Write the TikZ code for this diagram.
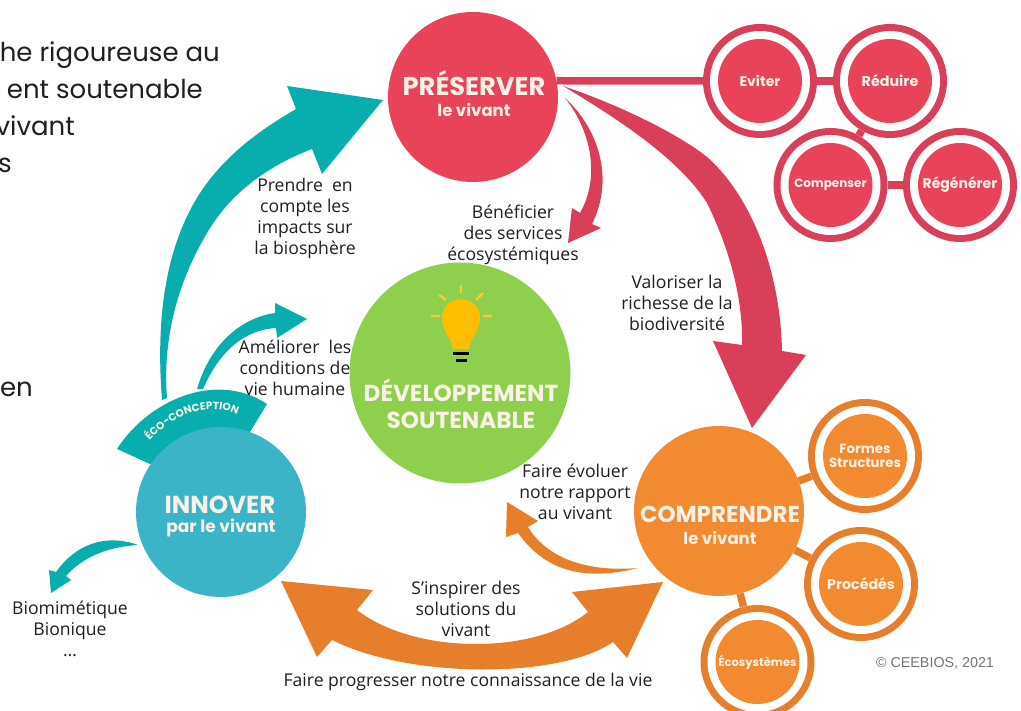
\documentclass[tikz,border=0pt]{standalone}
\usepackage{fontspec}
\usetikzlibrary{positioning, decorations.text}

\setmainfont{Open Sans}
\newfontfamily\headfont{Poppins}
\newfontfamily\introfont{Poppins}
\newfontfamily\creditfont{Liberation Sans}

\definecolor{redfill}{HTML}{E84359}
\definecolor{reddark}{HTML}{DA3F5A}
\definecolor{orangefill}{HTML}{F28A32}
\definecolor{orangedark}{HTML}{E67E2B}
\definecolor{tealarrow}{HTML}{08AEAE}
\definecolor{bluefill}{HTML}{3AB4C6}
\definecolor{greenfill}{HTML}{8ECF4E}
\definecolor{paletext}{HTML}{FCF1E6}
\definecolor{bulbyellow}{HTML}{FFBE00}

\tikzset{
    hub/.style={circle, minimum size=170pt, inner sep=0pt, fill=#1},
    subring/.style 2 args={circle, minimum size=114pt, inner sep=0pt, fill=#1, text=paletext,
        path picture={
            \fill[white] (path picture bounding box.center) circle (50);
            \fill[#2] (path picture bounding box.center) circle (42);
        }},
    hubtitle/.style={text=paletext, inner sep=0pt, font=\headfont\bfseries\fontsize{#1}{#1}\selectfont},
    ringtext/.style={font=\headfont\bfseries\fontsize{#1}{#1}\selectfont},
    caption/.style={inner sep=0pt, align=center, text=black!88, font=\fontsize{17.6}{21}\selectfont},
    intro/.style={anchor=base east, inner sep=0pt, text=black!88, font=\introfont\fontsize{26}{26}\selectfont},
    link/.style={line width=7.5pt, draw=#1},
}

\begin{document}
\begin{tikzpicture}[x=1pt, y=-1pt, on grid]
    \useasboundingbox (0,0) rectangle (1021,711);
    \clip (0,0) rectangle (1021,711);

    % Cut-off text on the left
    \node[intro] (introa) at (220,62) {he rigoureuse au};
    \node[intro] (introb) at (203,99) {ent soutenable};
    \node[intro] (introc) at (75,136) {vivant};
    \node[intro] (introd) at (12,173) {s};
    \node[intro] (introe) at (33,397) {en};

    % Band behind the innover circle
    \fill[tealarrow] (150,464) -- (117,449) .. controls (146,403) and (214,369) .. (267,404) -- (250,432) -- cycle;
    \path[decorate, decoration={text along path, text align=center,
        text={|\headfont\bfseries\fontsize{10.5}{10.5}\selectfont\color{paletext}|ÉCO-CONCEPTION}}]
        (143,449) .. controls (168,414) and (215,396) .. (246,421);

    % Label under the green circle
    \node[caption] (ameliorer) at (295,368) {Améliorer~ les\\conditions de\\ vie humaine};

    % Main circles
    \node[hub=redfill] (preserver) at (473,97) {};
    \node[hub=greenfill, minimum size=221pt] (durable) at (460,373) {};
    \node[hub=bluefill] (innover) at (221,512) {};
    \node[hub=orangefill] (comprendre) at (719,511) {};

    % Circle titles
    \node[hubtitle=25.7] (preservera) at (474,83) {PRÉSERVER};
    \node[hubtitle=16.5] (preserverb) at (474,110) {le vivant};
    \node[hubtitle=23.2] (durablea) at (461,390) {DÉVELOPPEMENT};
    \node[hubtitle=23.2] (durableb) at (461,420) {SOUTENABLE};
    \node[hubtitle=24.6] (innovera) at (220,505) {INNOVER};
    \node[hubtitle=17] (innoverb) at (221,528) {par le vivant};
    \node[hubtitle=23] (comprendrea) at (720,514) {COMPRENDRE};
    \node[hubtitle=16.5] (comprendreb) at (720,538) {le vivant};

    % Small circles
    \node[subring={reddark}{redfill}, ringtext=14] (eviter) at (760,81) {Eviter};
    \node[subring={reddark}{redfill}, ringtext=14.3] (reduire) [right=130pt of eviter] {Réduire};
    \node[subring={reddark}{redfill}, ringtext=12] (compenser) [below left=104pt and 59.5pt of reduire] {Compenser};
    \node[subring={reddark}{redfill}, ringtext=14] (regenerer) [right=129.5pt of compenser] {Régénérer};
    \node[subring={orangedark}{orangefill}, ringtext=13.3, align=center] (formes) at (865,456) {Formes\\[1pt]Structures};
    \node[subring={orangedark}{orangefill}, ringtext=14.2] (procedes) at (861,584) {Procédés};
    \node[subring={orangedark}{orangefill}, ringtext=11.5] (ecosystemes) at (757.5,662) {Écosystèmes};

    % Links
    \draw[link=reddark] (preserver.11) -- (eviter);
    \draw[link=reddark] (eviter) -- (reduire);
    \draw[link=reddark] (reduire) -- (compenser);
    \draw[link=reddark] (compenser) -- (regenerer);
    \draw[link=orangedark] (comprendre) -- (formes);
    \draw[link=orangedark] (comprendre) -- (procedes);
    \draw[link=orangedark] (comprendre) -- (ecosystemes);

    % Lamp
    \fill[bulbyellow] (453,349) .. controls (452,338) and (442,332) .. (442,318)
        .. controls (442,293) and (480,293) .. (480,318)
        .. controls (480,332) and (470,338) .. (469,349) -- cycle;
    \draw[black, line width=3pt] (453,354) -- (469,354) (456,361) -- (467,361);
    \draw[bulbyellow!80!white, line width=2.4pt] (461,285) -- (461,293) (439,295) -- (446,300)
        (483,293) -- (476,300) (431,316) -- (440,316) (483,316) -- (492,316);

    % Teal arrows
    \fill[tealarrow] (162,400) .. controls (157,335) and (160,255) .. (200,193)
        .. controls (225,155) and (260,130) .. (296,109) -- (287,86) -- (383,100) -- (322,174) -- (312,149)
        .. controls (270,165) and (235,190) .. (212,225)
        .. controls (180,275) and (162,335) .. (167,398) -- cycle;
    \fill[tealarrow] (197,389) .. controls (210,345) and (240,318) .. (275,313) -- (275,303) -- (307,319) -- (277,338) -- (276,328)
        .. controls (245,330) and (220,350) .. (203,389) -- cycle;
    \fill[tealarrow] (138,545) .. controls (105,533) and (75,545) .. (56,572) -- (49,570) -- (51,593) -- (71,580) -- (66,576)
        .. controls (85,555) and (110,547) .. (138,545) -- cycle;

    % Red arrows
    \fill[reddark] (563,86) .. controls (620,105) and (680,135) .. (707,157) .. controls (745,190) and (780,260) .. (782,351)
        -- (806,355) -- (752,428) -- (713,341) -- (742,345)
        .. controls (743,310) and (735,260) .. (707,203) .. controls (680,160) and (620,120) .. (563,86) -- cycle;
    \fill[reddark] (565,98) .. controls (598,128) and (615,178) .. (592,224) -- (601,228) -- (568,243) -- (572,208) -- (580,213)
        .. controls (600,178) and (592,132) .. (565,98) -- cycle;

    % Orange arrows
    \fill[orangedark] (638,568) .. controls (590,580) and (548,575) .. (518,533) -- (506,537) -- (507,502) -- (538,521) -- (528,527)
        .. controls (548,560) and (590,572) .. (638,568) -- cycle;
    \fill[orangedark] (281,581) -- (373,590) -- (357,610) .. controls (415,655) and (535,655) .. (588,612)
        -- (572,592) -- (663,582) -- (627,658) -- (613,642) .. controls (560,679) and (410,679) .. (332,640)
        -- (317,657) -- cycle;

    % Captions
    \node[caption] (impacts) at (305,218) {Prendre~ en\\compte les\\impacts sur\\la biosphère};
    \node[caption] (services) at (513,234.5) {Bénéficier\\des services\\écosystémiques};
    \node[caption] (richesse) at (677,303) {Valoriser la\\richesse de la\\biodiversité};
    \node[caption] (rapport) at (575,492) {Faire évoluer\\notre rapport\\au vivant};
    \node[caption] (inspirer) at (466,609) {S’inspirer des\\solutions du\\vivant};
    \node[caption] (progres) at (468,681.5) {Faire progresser notre connaissance de la vie};
    \node[caption] (biomimetique) at (70,629) {Biomimétique\\Bionique\\…};
    \node[inner sep=0pt, text=black!55, font=\creditfont\fontsize{14.3}{14.3}\selectfont] (credit) at (935,663) {© CEEBIOS, 2021};
\end{tikzpicture}
\end{document}
